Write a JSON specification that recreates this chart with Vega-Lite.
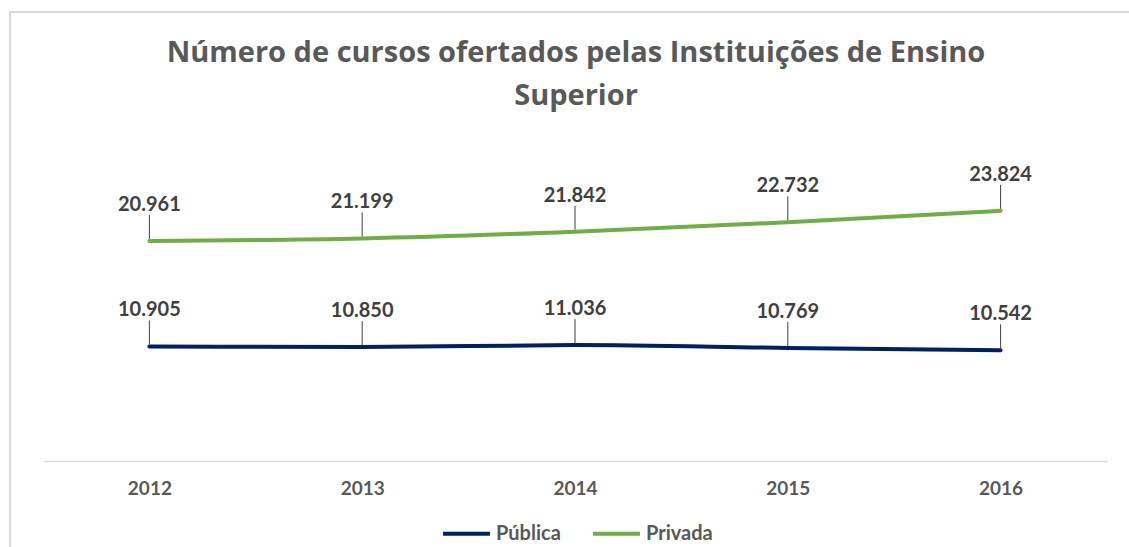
{
  "$schema": "https://vega.github.io/schema/vega-lite/v6.json",
  "autosize": {"type": "none"},
  "padding": {"left": 10, "top": 12, "right": -3, "bottom": -3},
  "width": 1122,
  "height": 538,
  "background": "white",
  "config": {
    "view": {"stroke": "#d9d9d9", "strokeWidth": 2},
    "font": "Lato",
    "locale": {"number": {"decimal": ",", "thousands": ".", "grouping": [3], "currency": ["R$", ""]}}
  },
  "title": {
    "text": ["Número de cursos ofertados pelas Instituições de Ensino", "Superior"],
    "font": "Open Sans",
    "fontSize": 29,
    "fontWeight": "bold",
    "color": "#595959",
    "anchor": "middle",
    "frame": "group",
    "baseline": "top",
    "lineHeight": 43,
    "dx": 5,
    "offset": -99
  },
  "data": {
    "values": [
      {"ano": "2012", "tipo": "Pública", "valor": 10905},
      {"ano": "2013", "tipo": "Pública", "valor": 10850},
      {"ano": "2014", "tipo": "Pública", "valor": 11036},
      {"ano": "2015", "tipo": "Pública", "valor": 10769},
      {"ano": "2016", "tipo": "Pública", "valor": 10542},
      {"ano": "2012", "tipo": "Privada", "valor": 20961},
      {"ano": "2013", "tipo": "Privada", "valor": 21199},
      {"ano": "2014", "tipo": "Privada", "valor": 21842},
      {"ano": "2015", "tipo": "Privada", "valor": 22732},
      {"ano": "2016", "tipo": "Privada", "valor": 23824}
    ]
  },
  "encoding": {
    "x": {
      "field": "ano",
      "type": "ordinal",
      "scale": {"type": "point", "range": [33, 1097], "padding": 0.5},
      "axis": {
        "title": null,
        "labelAngle": 0,
        "ticks": false,
        "grid": false,
        "domainColor": "#d9d9d9",
        "domainWidth": 1.5,
        "offset": -89,
        "labelPadding": 18,
        "labelFont": "Lato",
        "labelFontSize": 19,
        "labelFontWeight": "bold",
        "labelColor": "#595959"
      }
    },
    "y": {
      "field": "valor",
      "type": "quantitative",
      "scale": {"domain": [0, 30000], "range": [449, 134], "nice": false, "zero": true},
      "axis": null
    }
  },
  "layer": [
    {
      "mark": {"type": "line", "strokeWidth": 4, "interpolate": "monotone", "strokeCap": "round"},
      "encoding": {
        "color": {
          "field": "tipo",
          "type": "nominal",
          "scale": {"domain": ["Pública", "Privada"], "range": ["#002060", "#70AD47"]},
          "legend": {
            "title": null,
            "orient": "none",
            "legendX": 431,
            "legendY": 496,
            "direction": "horizontal",
            "columns": 2,
            "padding": 0,
            "symbolType": "stroke",
            "symbolSize": 2200,
            "symbolStrokeWidth": 4,
            "labelFont": "Lato",
            "labelFontSize": 20,
            "labelFontWeight": "bold",
            "labelColor": "#595959",
            "labelOffset": 4,
            "columnPadding": 24
          }
        }
      }
    },
    {
      "mark": {"type": "point", "shape": "M0,-2.6L0,-0.2", "size": 400, "filled": false, "stroke": "#404040", "strokeWidth": 1, "opacity": 1},
      "encoding": {}
    },
    {
      "mark": {"type": "text", "dy": -36, "baseline": "middle", "align": "center", "font": "Lato", "fontSize": 20, "fontWeight": "bold", "color": "#404040"},
      "encoding": {
        "text": {"field": "valor", "type": "quantitative", "format": ",d"}
      }
    }
  ]
}
